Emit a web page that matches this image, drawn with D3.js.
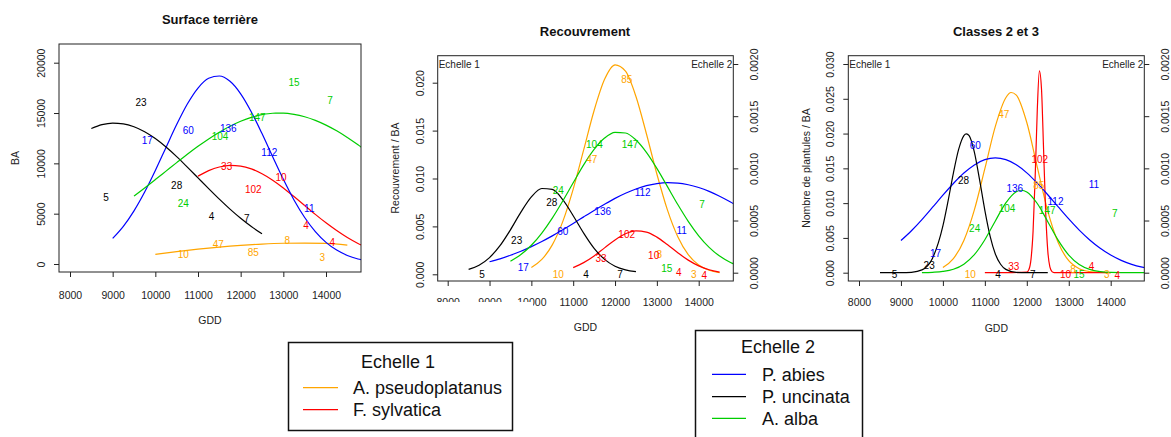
<!DOCTYPE html>
<html>
<head>
<meta charset="utf-8">
<script src="https://cdn.jsdelivr.net/npm/d3@7"></script>
<style>
body { margin: 0; background: #fff; }
svg { display: block; font-family: "Liberation Sans", Arial, sans-serif; }
</style>
</head>
<body>
<svg id="chart" width="1171" height="437"></svg>
<script>
// species, in the order used by every series list below
const species = ["A. pseudoplatanus", "F. sylvatica", "P. abies", "P. uncinata", "A. alba"];
const speciesColor = ["#FFA500", "#FF0000", "#0000FF", "#000000", "#00CD00"];
const speciesScale = [1, 1, 2, 2, 2]; // Echelle 1 or Echelle 2

const xTicks = [8000, 9000, 10000, 11000, 12000, 13000, 14000];
const baTicks = [0, 5000, 10000, 15000, 20000];
const coverTicks = [0, 0.005, 0.01, 0.015, 0.02];
const seedTicks = [0, 0.005, 0.01, 0.015, 0.02, 0.025, 0.03];
const scale2Ticks = [0, 0.0005, 0.001, 0.0015, 0.002];

// Surface terrière (BA)
const baPseudo = [[10000,960],[10500,1230],[11000,1470],[11500,1680],[12000,1850],[12500,1980],[13000,2060],[13500,2080],[14000,2040],[14500,1880]];
const baSylvatica = [[11000,8730],[11250,9280],[11500,9640],[11750,9800],[12000,9730],[12250,9450],[12500,8970],[12750,8330],[13000,7560],[13250,6700],[13500,5820],[13750,4930],[14000,4090],[14250,3320],[14500,2630],[14750,2040],[15000,1540]];
const baAbies = [[9000,2540],[9250,3740],[9500,5280],[9750,7150],[10000,9290],[10250,11580],[10500,13850],[10750,15890],[11000,17480],[11250,18450],[11500,18680],[11750,18150],[12000,16910],[12250,15110],[12500,12960],[12750,10660],[13000,8410],[13250,6360],[13500,4620],[13750,3220],[14000,2150],[14250,1380],[14500,850],[14750,500],[15000,280]];
const baUncinata = [[8500,13460],[8750,13840],[9000,14000],[9250,13930],[9500,13640],[9750,13140],[10000,12460],[10250,11620],[10500,10670],[10750,9630],[11000,8560],[11250,7490],[11500,6440],[11750,5450],[12000,4540],[12250,3720],[12500,3000]];
const baAlba = [[9500,6750],[9750,7560],[10000,8390],[10250,9230],[10500,10070],[10750,10900],[11000,11690],[11250,12430],[11500,13100],[11750,13690],[12000,14180],[12250,14570],[12500,14840],[12750,14980],[13000,14990],[13250,14870],[13500,14630],[13750,14270],[14000,13800],[14250,13230],[14500,12570],[14750,11840],[15000,11060]];
const baLabels = [
  ["23",9664,16060,3],["5",8844,6589,3],["28",10500,7848,3],["4",11320,4768,3],["7",12141,4536,3],
  ["17",9813,12318,2],["60",10773,13311,2],["136",11711,13510,2],["112",12672,11060,2],["11",13609,5530,2],
  ["15",13250,18079,4],["7",14094,16291,4],["147",12391,14570,4],["104",11516,12649,4],["24",10656,6026,4],
  ["33",11672,9669,1],["10",12945,8576,1],["102",12297,7450,1],["4",13531,3841,1],["4",14148,2152,1],
  ["47",11477,1987,0],["10",10656,993,0],["8",13094,2384,0],["85",12297,1159,0],["3",13914,662,0]
];

// Recouvrement / BA
const coverPseudo = [[10000,0.00071],[10250,0.00155],[10500,0.00307],[10750,0.0055],[11000,0.00889],[11250,0.01298],[11500,0.0171],[11750,0.02035],[12000,0.02186],[12250,0.0212],[12500,0.01856],[12750,0.01467],[13000,0.01047],[13250,0.00675],[13500,0.00392],[13750,0.00206],[14000,0.00098],[14250,0.00042],[14500,0.00016]];
const coverSylvatica = [[11000,0.0007],[11250,0.00122],[11500,0.00192],[11750,0.00276],[12000,0.00359],[12250,0.00424],[12500,0.00454],[12750,0.00441],[13000,0.00388],[13250,0.0031],[13500,0.00225],[13750,0.00148],[14000,0.00088],[14250,0.00048],[14500,0.00023]];
const coverAbies = [[9000,0.000105],[9250,0.000133],[9500,0.000167],[9750,0.000205],[10000,0.00025],[10250,0.000299],[10500,0.000353],[10750,0.000411],[11000,0.000472],[11250,0.000535],[11500,0.000597],[11750,0.000656],[12000,0.000712],[12250,0.000761],[12500,0.000802],[12750,0.000834],[13000,0.000854],[13250,0.000863],[13500,0.000859],[13750,0.000843],[14000,0.000816],[14250,0.000779],[14500,0.000732],[14750,0.000679],[15000,0.000621]];
const coverUncinata = [[8500,0.000032],[8750,0.000072],[9000,0.000145],[9250,0.000259],[9500,0.000411],[9750,0.00058],[10000,0.000726],[10250,0.000807],[10500,0.000798],[10750,0.0007],[11000,0.000546],[11250,0.000379],[11500,0.000233],[11750,0.000128],[12000,0.000062],[12250,0.000027],[12500,0.00001]];
const coverAlba = [[9500,0.00011],[9750,0.000174],[10000,0.000263],[10250,0.00038],[10500,0.000523],[10750,0.000687],[11000,0.000862],[11250,0.001033],[11500,0.001181],[11750,0.00129],[12000,0.001345],[12250,0.001339],[12500,0.001272],[12750,0.001154],[13000,0.001],[13250,0.000827],[13500,0.000653],[13750,0.000492],[14000,0.000354],[14250,0.000243],[14500,0.000159],[14750,0.0001],[15000,0.00006]];
const coverLabels = [
  ["5",8821,-0.000016,3],["23",9649,0.000307,3],["28",10486,0.000671,3],["4",11307,-0.000016,3],["7",12120,-0.000016,3],
  ["17",9809,0.000048,2],["60",10749,0.000399,2],["136",11705,0.000585,2],["112",12661,0.000767,2],["11",13594,0.000409,2],
  ["24",10645,0.000783,4],["104",11506,0.001224,4],["147",12359,0.001224,4],["7",14080,0.000658,4],["15",13235,0.000042,4],
  ["10",10645,-0.00007,0],["47",11442,0.01203,0],["85",12279,0.02035,0],["8",13060,0.00202,0],["3",13880,0,0],
  ["33",11665,0.00167,1],["102",12279,0.00417,1],["10",12924,0.00195,1],["4",13522,0.00017,1],["4",14135,-0.0001,1]
];

// Nombre de plantules / BA (classes 2 et 3)
const seedPseudo = [[10000,0.00075],[10250,0.00203],[10500,0.00464],[10750,0.00903],[11000,0.01495],[11250,0.02103],[11500,0.02515],[11625,0.0259],[11750,0.02552],[12000,0.02159],[12250,0.01517],[12500,0.00885],[12750,0.00429],[13000,0.00172],[13250,0.00058],[13500,0.00016],[13750,0.00004],[14000,0.00001]];
const seedSylvatica = [[11000,0],[11500,0],[12000,0.00008],[12050,0.00045],[12100,0.00192],[12150,0.00601],[12200,0.01383],[12250,0.02338],[12300,0.02902],[12350,0.02645],[12400,0.01771],[12450,0.00871],[12500,0.00314],[12550,0.00083],[12600,0.00016],[12650,0.00002],[13000,0],[13500,0],[14000,0]];
const seedAbies = [[9000,0.000308],[9250,0.000402],[9500,0.000509],[9750,0.000625],[10000,0.000743],[10250,0.000855],[10500,0.000955],[10750,0.001033],[11000,0.001083],[11250,0.0011],[11500,0.001083],[11750,0.001034],[12000,0.000957],[12250,0.000858],[12500,0.000747],[12750,0.00063],[13000,0.000515],[13250,0.000408],[13500,0.000314],[13750,0.000234],[14000,0.000169],[14250,0.000118],[14500,0.00008],[14750,0.000053],[15000,0.000034]];
const seedUncinata = [[8500,0],[9000,0],[9250,0.000004],[9500,0.000027],[9750,0.000137],[10000,0.000449],[10125,0.000691],[10250,0.000954],[10375,0.001181],[10500,0.001314],[10560,0.00133],[10625,0.001313],[10750,0.001156],[10875,0.000889],[11000,0.000598],[11125,0.000351],[11250,0.00018],[11375,0.000081],[11500,0.000032],[11750,0.000003],[12000,0],[12500,0]];
const seedAlba = [[9500,0],[9750,0.000004],[10000,0.000012],[10250,0.000033],[10500,0.000082],[10750,0.000173],[11000,0.000316],[11250,0.000496],[11500,0.000669],[11750,0.000776],[11875,0.00079],[12000,0.000774],[12250,0.000663],[12500,0.000489],[12750,0.00031],[13000,0.000169],[13250,0.000079],[13500,0.000032],[13750,0.000011],[14000,0.000003],[14500,0],[15000,0]];
const seedLabels = [
  ["5",8845,-0.000022,3],["23",9673,0.000067,3],["28",10494,0.000879,3],["4",11315,-0.000022,3],["7",12143,-0.000022,3],
  ["17",9825,0.000185,2],["60",10773,0.001217,2],["136",11713,0.000808,2],["112",12685,0.00068,2],["11",13602,0.00085,2],
  ["24",10757,0.000425,4],["104",11530,0.000617,4],["147",12486,0.0006,4],["7",14096,0.000569,4],["15",13243,-0.000016,4],
  ["10",10653,-0.00024,0],["47",11450,0.02281,0],["85",12287,0.01251,0],["8",13100,0.00048,0],["3",13904,-0.00024,0],
  ["33",11689,0.00096,1],["102",12311,0.01634,1],["10",12924,-0.00024,1],["4",13546,0.00086,1],["4",14159,-0.00034,1]
];

const svg = d3.select("#chart");
const axisColor = "#222";

const panels = [
  { title: "Surface terrière", titleX: 210, titleY: 19, yLabel: "BA", yLabelX: 15, yLabelY: 158,
    box: { l: 59, r: 361, t: 44, b: 272 }, xRange: [70, 326], xTickY: 295, xLabelY: 320,
    y1: { domain: [0, 20000], range: [264, 62.7], ticks: baTicks, fmt: d3.format("d"), labelX: 41.7 },
    y2: null, series: [baPseudo, baSylvatica, baAbies, baUncinata, baAlba], labels: baLabels },
  { title: "Recouvrement", titleX: 585, titleY: 31, yLabel: "Recouvrement / BA", yLabelX: 395, yLabelY: 168,
    box: { l: 437.7, r: 733.3, t: 55.7, b: 281 }, xRange: [447.7, 698.7], xTickY: 302.5, xLabelY: 327.5,
    y1: { domain: [0, 0.02], range: [274.3, 82.7], ticks: coverTicks, fmt: d3.format(".3f"), labelX: 420 },
    y2: { domain: [0, 0.002], range: [272.7, 64], ticks: scale2Ticks, fmt: d3.format(".4f"), labelX: 754.3 },
    series: [coverPseudo, coverSylvatica, coverAbies, coverUncinata, coverAlba], labels: coverLabels },
  { title: "Classes 2 et 3", titleX: 996, titleY: 31, yLabel: "Nombre de plantules / BA", yLabelX: 806.7, yLabelY: 168,
    box: { l: 848.3, r: 1144.3, t: 55.7, b: 281 }, xRange: [859, 1110.7], xTickY: 302.7, xLabelY: 328,
    y1: { domain: [0, 0.03], range: [272.7, 64], ticks: seedTicks, fmt: d3.format(".3f"), labelX: 830 },
    y2: { domain: [0, 0.002], range: [272.7, 64], ticks: scale2Ticks, fmt: d3.format(".4f"), labelX: 1165 },
    series: [seedPseudo, seedSylvatica, seedAbies, seedUncinata, seedAlba], labels: seedLabels }
];

function styleAxis(g) {
  g.attr("font-size", null).attr("font-family", null);
  g.select(".domain").remove();
  g.selectAll(".tick line").attr("stroke", axisColor);
  g.selectAll(".tick text").attr("fill", axisColor).style("font-size", "10.5px");
}

function rotateLabels(g, offset) {
  g.selectAll(".tick text")
    .attr("x", null).attr("y", null)
    .attr("text-anchor", "middle")
    .attr("dy", "0.35em")
    .attr("transform", `translate(${offset},0) rotate(-90)`);
}

panels.forEach((p, pi) => {
  const x = d3.scaleLinear().domain([8000, 14000]).range(p.xRange);
  const y1 = d3.scaleLinear().domain(p.y1.domain).range(p.y1.range);
  const y2 = p.y2 ? d3.scaleLinear().domain(p.y2.domain).range(p.y2.range) : y1;
  const yFor = i => (speciesScale[i] === 2 ? y2 : y1);
  const b = p.box;

  svg.append("clipPath").attr("id", "clip" + pi)
    .append("rect").attr("x", b.l).attr("y", b.t).attr("width", b.r - b.l).attr("height", b.b - b.t);

  const plot = svg.append("g").attr("clip-path", `url(#clip${pi})`);
  p.series.forEach((data, i) => {
    const line = d3.line().x(d => x(d[0])).y(d => yFor(i)(d[1])).curve(d3.curveMonotoneX);
    plot.append("path").datum(data)
      .attr("d", line)
      .attr("fill", "none")
      .attr("stroke", speciesColor[i])
      .attr("stroke-width", 1.2);
  });

  svg.append("g").selectAll("text").data(p.labels).join("text")
    .attr("x", d => x(d[1]))
    .attr("y", d => yFor(d[3])(d[2]))
    .attr("dy", "0.35em")
    .attr("text-anchor", "middle")
    .attr("font-size", 10)
    .attr("fill", d => speciesColor[d[3]])
    .text(d => d[0]);

  svg.append("rect")
    .attr("x", b.l).attr("y", b.t).attr("width", b.r - b.l).attr("height", b.b - b.t)
    .attr("fill", "none").attr("stroke", "#222").attr("stroke-width", 1);

  // x axis
  const xg = svg.append("g").attr("transform", `translate(0,${b.b})`)
    .call(d3.axisBottom(x).tickValues(xTicks).tickSize(5).tickFormat(d3.format("d")));
  styleAxis(xg);
  xg.selectAll(".tick text").attr("y", p.xTickY - b.b).attr("dy", "0.35em");

  // left axis
  const yg = svg.append("g").attr("transform", `translate(${b.l},0)`)
    .call(d3.axisLeft(y1).tickValues(p.y1.ticks).tickSize(5).tickFormat(p.y1.fmt));
  styleAxis(yg);
  rotateLabels(yg, p.y1.labelX - b.l);

  if (p.y2) {
    const rg = svg.append("g").attr("transform", `translate(${b.r},0)`)
      .call(d3.axisRight(y2).tickValues(p.y2.ticks).tickSize(5).tickFormat(p.y2.fmt));
    styleAxis(rg);
    rotateLabels(rg, p.y2.labelX - b.r);

    svg.append("text").attr("x", b.l + 1).attr("y", b.t + 9).attr("dy", "0.35em")
      .attr("font-size", 10).attr("fill", axisColor).text("Echelle 1");
    svg.append("text").attr("x", b.r - 1).attr("y", b.t + 9).attr("dy", "0.35em")
      .attr("text-anchor", "end").attr("font-size", 10).attr("fill", axisColor).text("Echelle 2");
  }

  svg.append("text").attr("x", p.titleX).attr("y", p.titleY).attr("dy", "0.35em")
    .attr("text-anchor", "middle").attr("font-size", 13).attr("font-weight", "bold")
    .attr("fill", "#111").text(p.title);

  svg.append("text").attr("x", (b.l + b.r) / 2 + (pi === 0 ? 0 : 0)).attr("y", p.xLabelY).attr("dy", "0.35em")
    .attr("text-anchor", "middle").attr("font-size", 10.5).attr("fill", axisColor).text("GDD");

  svg.append("text").attr("dy", "0.35em")
    .attr("transform", `translate(${p.yLabelX},${p.yLabelY}) rotate(-90)`)
    .attr("text-anchor", "middle").attr("font-size", 10.5).attr("fill", axisColor).text(p.yLabel);
});

// the middle panel's first tick labels are half hidden in the original image
svg.append("rect").attr("x", 425).attr("y", 302).attr("width", 108).attr("height", 10).attr("fill", "#fff");

// legends
const legends = [
  { title: "Echelle 1", box: [288.5, 342.5, 224, 88], titleY: 362, titleX: 398, lineX: [303, 338], textX: 353, rowY: [387.7, 409.7] },
  { title: "Echelle 2", box: [695.5, 330.5, 167, 120], titleY: 346.7, titleX: 778, lineX: [712, 746], textX: 762, rowY: [374.3, 396.7, 418.3] }
];

legends.forEach((lg, li) => {
  const g = svg.append("g");
  g.append("rect").attr("x", lg.box[0]).attr("y", lg.box[1]).attr("width", lg.box[2]).attr("height", lg.box[3])
    .attr("fill", "#fff").attr("stroke", "#111").attr("stroke-width", 1.5);
  g.append("text").attr("x", lg.titleX).attr("y", lg.titleY).attr("dy", "0.35em")
    .attr("text-anchor", "middle").attr("font-size", 18).attr("fill", "#111").text(lg.title);
  const members = species.map((s, i) => i).filter(i => speciesScale[i] === li + 1);
  members.forEach((i, k) => {
    g.append("line").attr("x1", lg.lineX[0]).attr("x2", lg.lineX[1])
      .attr("y1", lg.rowY[k]).attr("y2", lg.rowY[k])
      .attr("stroke", speciesColor[i]).attr("stroke-width", 1.2);
    g.append("text").attr("x", lg.textX).attr("y", lg.rowY[k]).attr("dy", "0.35em")
      .attr("font-size", 18).attr("fill", "#111").text(species[i]);
  });
});
</script>
</body>
</html>
